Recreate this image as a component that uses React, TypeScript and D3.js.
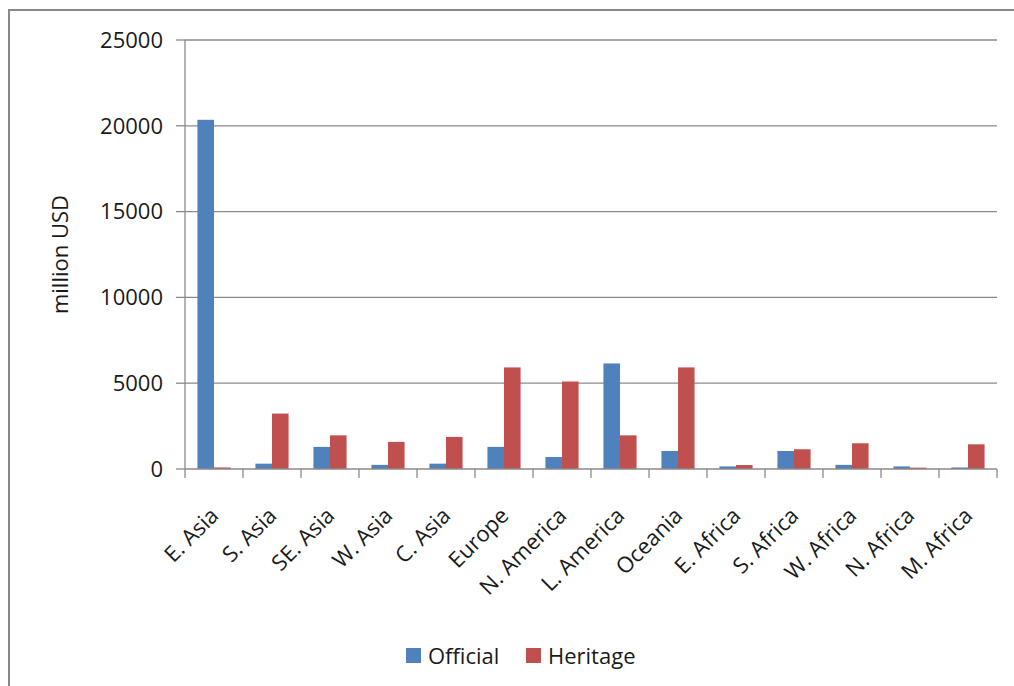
import React from "react";
import * as d3 from "d3";

const categories = [
  "E. Asia", "S. Asia", "SE. Asia", "W. Asia", "C. Asia", "Europe", "N. America",
  "L. America", "Oceania", "E. Africa", "S. Africa", "W. Africa", "N. Africa", "M. Africa",
];
const official = [20350, 310, 1290, 240, 310, 1290, 700, 6150, 1050, 150, 1050, 240, 150, 90];
const heritage = [90, 3230, 1960, 1580, 1870, 5920, 5100, 1960, 5920, 230, 1150, 1500, 80, 1440];
const yTicks = [0, 5000, 10000, 15000, 20000, 25000];
const seriesNames = ["Official", "Heritage"];
const seriesColors = ["#4F81BD", "#C0504D"];

const W = 1014;
const H = 686;
const plot = { left: 185, right: 997, top: 40, bottom: 469 };
const FONT = "'Open Sans', sans-serif";
const GRID = "#8a8a8a";

export default function App() {
  const x = d3.scaleBand<string>()
    .domain(categories)
    .range([plot.left, plot.right])
    .paddingInner(0)
    .paddingOuter(0);
  const bw = x.bandwidth();
  const barW = bw / 3.5; // gap width 150%
  const y = d3.scaleLinear().domain([0, 25000]).range([plot.bottom, plot.top]);

  const series = [official, heritage];
  const boundaries = [...categories.map((c) => x(c)!), plot.right];

  return (
    <svg
      width={W}
      height={H}
      style={{ position: "fixed", left: 0, top: 0, background: "#fff" }}
      fontFamily={FONT}
    >
      {/* outer frame */}
      <rect x={9} y={10} width={W + 20} height={H + 20} fill="#fff" stroke="#888" strokeWidth={2} />

      {/* gridlines */}
      {yTicks.filter((t) => t > 0).map((t) => (
        <line key={t} x1={plot.left} x2={plot.right} y1={y(t)} y2={y(t)} stroke={GRID} strokeWidth={1.3} />
      ))}

      {/* bars */}
      {series.map((vals, si) =>
        vals.map((v, i) => {
          const cx = x(categories[i])! + bw / 2;
          const bx = cx - barW + si * barW;
          return (
            <rect
              key={`${si}-${i}`}
              x={bx}
              y={y(v)}
              width={barW}
              height={y(0) - y(v)}
              fill={seriesColors[si]}
            />
          );
        })
      )}

      {/* y axis */}
      <line x1={plot.left} x2={plot.left} y1={plot.top} y2={plot.bottom} stroke={GRID} strokeWidth={1.3} />
      {yTicks.map((t) => (
        <g key={t}>
          <line x1={plot.left - 9} x2={plot.left} y1={y(t)} y2={y(t)} stroke={GRID} strokeWidth={1.3} />
          <text x={163} y={y(t)} dy="0.35em" textAnchor="end" fontSize={22} fill="#1a1a1a">
            {t}
          </text>
        </g>
      ))}

      {/* x axis */}
      <line x1={plot.left} x2={plot.right} y1={plot.bottom} y2={plot.bottom} stroke={GRID} strokeWidth={1.3} />
      {boundaries.map((bx, i) => (
        <line key={i} x1={bx} x2={bx} y1={plot.bottom} y2={plot.bottom + 9} stroke={GRID} strokeWidth={1.3} />
      ))}
      {categories.map((c) => {
        const cx = x(c)! + bw / 2 + 6;
        const cy = 517;
        return (
          <text
            key={c}
            x={cx}
            y={cy}
            textAnchor="end"
            fontSize={22}
            fill="#1a1a1a"
            transform={`rotate(-45 ${cx} ${cy})`}
          >
            {c}
          </text>
        );
      })}

      {/* y axis title */}
      <text
        x={68}
        y={(plot.top + plot.bottom) / 2}
        textAnchor="middle"
        fontSize={22}
        fill="#1a1a1a"
        transform={`rotate(-90 68 ${(plot.top + plot.bottom) / 2})`}
      >
        million USD
      </text>

      {/* legend */}
      {seriesNames.map((n, i) => {
        const lx = i === 0 ? 406 : 526;
        return (
          <g key={n}>
            <rect x={lx} y={648} width={15} height={15} fill={seriesColors[i]} />
            <text x={lx + 22} y={664} fontSize={22} fill="#1a1a1a">
              {n}
            </text>
          </g>
        );
      })}
    </svg>
  );
}
